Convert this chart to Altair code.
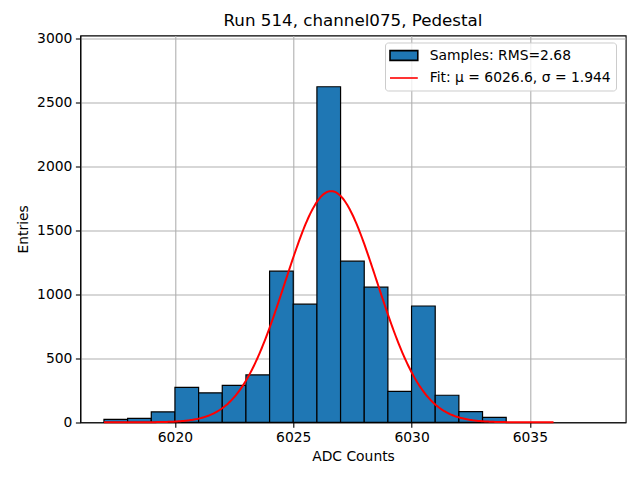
import altair as alt
import numpy as np
import pandas as pd

# ---- data ----
BIN_LEFT = [6017, 6018, 6019, 6020, 6021, 6022, 6023, 6024, 6025, 6026,
            6027, 6028, 6029, 6030, 6031, 6032, 6033]
COUNTS = [23, 31, 81, 273, 230, 289, 370, 1180, 922, 2620,
          1258, 1055, 242, 908, 211, 83, 39]
BIN_WIDTH = 1

FIT_MU = 6026.6
FIT_SIGMA = 1.944
FIT_AMP = 1805
FIT_RANGE = [6017, 6036]

X_TICKS = [6020, 6025, 6030, 6035]
Y_TICKS = [0, 500, 1000, 1500, 2000, 2500, 3000]
X_DOMAIN = [6016.0, 6039.05]
Y_DOMAIN = [0, 3020]

TITLE = "Run 514, channel075, Pedestal"
X_TITLE = "ADC Counts"
Y_TITLE = "Entries"
LABEL_SAMPLES = "Samples: RMS=2.68"
LABEL_FIT = "Fit: μ = 6026.6, σ = 1.944"

hist = pd.DataFrame({
    "lo": BIN_LEFT,
    "hi": [b + BIN_WIDTH for b in BIN_LEFT],
    "count": COUNTS,
})

xs = np.linspace(FIT_RANGE[0], FIT_RANGE[1], 400)
fit = pd.DataFrame({
    "x": xs,
    "y": FIT_AMP * np.exp(-0.5 * ((xs - FIT_MU) / FIT_SIGMA) ** 2),
})

legend_df = pd.DataFrame({
    "series": [LABEL_SAMPLES, LABEL_FIT],
    "x": [FIT_MU, FIT_MU],
    "y": [0, 0],
})

FS = 13.9  # 10pt at 100 dpi
xscale = alt.Scale(domain=X_DOMAIN, nice=False, zero=False)
yscale = alt.Scale(domain=Y_DOMAIN, nice=False)

xaxis = alt.Axis(values=X_TICKS, title=X_TITLE, format="d", grid=True)
yaxis = alt.Axis(values=Y_TICKS, title=Y_TITLE, format="d", grid=True)

bars = alt.Chart(hist).mark_bar(
    fill="#1f77b4", stroke="black", strokeWidth=1.2
).encode(
    x=alt.X("lo:Q", scale=xscale, axis=xaxis),
    x2="hi:Q",
    y=alt.Y("count:Q", scale=yscale, axis=yaxis),
    y2=alt.datum(0),
)

line = alt.Chart(fit).mark_line(color="red", strokeWidth=2.0).encode(
    x=alt.X("x:Q", scale=xscale),
    y=alt.Y("y:Q", scale=yscale),
)

dom = [LABEL_SAMPLES, LABEL_FIT]
leg = alt.Legend(title=None)
legend_layer = alt.Chart(legend_df).mark_point(filled=True, strokeWidth=1.6).transform_filter(
    "datum.y > 1"
).encode(
    x=alt.X("x:Q", scale=xscale),
    y=alt.Y("y:Q", scale=yscale),
    fill=alt.Fill("series:N", scale=alt.Scale(domain=dom, range=["#1f77b4", "transparent"]), legend=leg),
    stroke=alt.Stroke("series:N", scale=alt.Scale(domain=dom, range=["black", "red"]), legend=leg),
    shape=alt.Shape("series:N", scale=alt.Scale(domain=dom, range=[
        "M-2,-0.7L2,-0.7L2,0.7L-2,0.7Z", "M-2,0L2,0"]), legend=leg),
)

chart = alt.layer(bars, line, legend_layer).properties(
    width=545.4,
    height=386.8,
    title=alt.TitleParams(TITLE, fontSize=16.7, fontWeight="normal", anchor="middle",
                          baseline="alphabetic", offset=-12, color="black"),
    autosize=alt.AutoSizeParams(type="none"),
    padding={"left": 72.3, "top": 27.5, "right": 6, "bottom": 40},
).configure(
    font="DejaVu Sans",
).configure_view(
    stroke="black", strokeWidth=1.1,
).configure_axis(
    zindex=1,
    labelFont="DejaVu Sans", labelFontSize=FS, labelColor="black",
    titleFont="DejaVu Sans", titleFontSize=FS, titleFontWeight="normal", titleColor="black",
    domainColor="black", domainWidth=1.1,
    tickColor="black", tickWidth=1.1, tickSize=4.9,
    labelPadding=3.5,
    gridColor="#b0b0b0", gridWidth=1.1,
).configure_axisX(
    titlePadding=4.5,
).configure_axisY(
    titlePadding=6,
).configure_legend(
    orient="none", legendX=304.7, legendY=7,
    strokeColor="#cccccc", fillColor="rgba(255,255,255,0.8)", cornerRadius=3,
    padding=5, labelFont="DejaVu Sans", labelFontSize=FS, labelColor="black",
    labelLimit=400,
    symbolSize=193, symbolOffset=5.9, labelOffset=17.8, rowPadding=5.5,
    symbolStrokeWidth=1.6, symbolOpacity=1,
)

chart.save("out.html", embed_options={"renderer": "svg", "actions": False})
